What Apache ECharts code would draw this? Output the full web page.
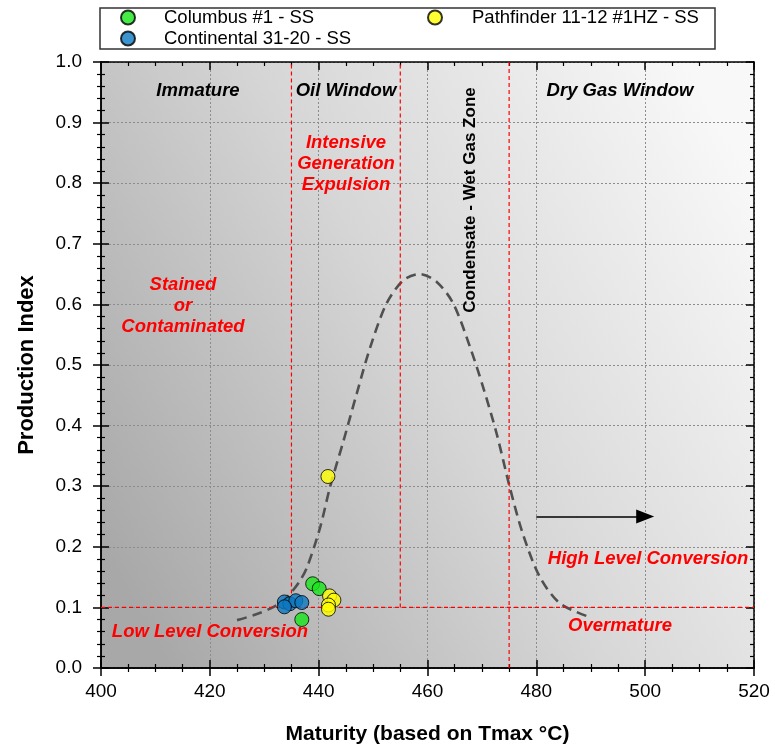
<!DOCTYPE html>
<html>
<head>
<meta charset="utf-8">
<script src="https://cdn.jsdelivr.net/npm/echarts@6/dist/echarts.min.js"></script>
<style>
  html, body { margin: 0; padding: 0; background: #fff; }
  #chart { width: 775px; height: 745px; }
</style>
</head>
<body>
<div id="chart"></div>
<script>
// samples: [Tmax, production index]
var columbus = [[438.9, 0.139], [440.1, 0.131], [436.9, 0.080]];
var continental = [[433.7, 0.109], [434.7, 0.106], [435.8, 0.111], [436.9, 0.108], [433.7, 0.101]];
var pathfinder = [[441.7, 0.316], [442.0, 0.119], [442.8, 0.112], [441.8, 0.104], [441.8, 0.097]];

// dashed maturity curve
var curveX = [425.0, 428.0, 431.1, 433.2, 434.8, 436.5, 437.9, 440.3, 442.1, 444.6, 447.0, 449.5, 452.5,
              455.6, 458.6, 461.7, 464.7, 467.8, 470.2, 472.7, 475.1, 477.5, 480.6, 484.3, 489.5];
var curveY = [0.079, 0.087, 0.098, 0.109, 0.123, 0.143, 0.167, 0.233, 0.299, 0.376, 0.453, 0.530, 0.602,
              0.640, 0.650, 0.637, 0.602, 0.530, 0.464, 0.387, 0.299, 0.222, 0.151, 0.107, 0.085];

// red dashed zone boundaries
var zoneLines = [
  [[435, 0.1], [435, 1.0]],
  [[455, 0.1], [455, 1.0]],
  [[475, 0.0], [475, 1.0]],
  [[400, 0.1], [520, 0.1]]
];
var arrowLine = [[480, 0.25], [500, 0.25]];

(function () {
  var chart = echarts.init(document.getElementById('chart'), null, { renderer: 'canvas' });
  var font = '"Liberation Sans", Arial, sans-serif';
  var red = '#ff0000';

  var curveData = curveX.map(function (x, i) { return [x, curveY[i]]; });

  function axisX(pos, inside, labels) {
    return {
      type: 'value', min: 400, max: 520, interval: 20, position: pos,
      axisLine: { show: true, onZero: false, lineStyle: { color: '#000', width: 1.5 } },
      axisTick: { show: true, inside: inside, length: 8, lineStyle: { color: '#000', width: 1.5 } },
      minorTick: { show: true, splitNumber: 4, length: 4, lineStyle: { color: '#000', width: 1.2 } },
      axisLabel: { show: labels, color: '#000', fontSize: 19, fontFamily: font, margin: 14 },
      splitLine: { show: false },
      name: labels ? 'Maturity (based on Tmax \u00b0C)' : '',
      nameLocation: 'middle', nameGap: 56,
      nameTextStyle: { color: '#000', fontSize: 21, fontWeight: 'bold', fontFamily: font }
    };
  }
  function axisY(pos, inside, labels) {
    return {
      type: 'value', min: 0, max: 1, interval: 0.1, position: pos,
      axisLine: { show: true, onZero: false, lineStyle: { color: '#000', width: 1.5 } },
      axisTick: { show: true, inside: inside, length: 8, lineStyle: { color: '#000', width: 1.5 } },
      minorTick: { show: true, splitNumber: 5, length: 4, lineStyle: { color: '#000', width: 1.2 } },
      axisLabel: {
        show: labels, color: '#000', fontSize: 19, fontFamily: font, margin: 19,
        formatter: function (v) { return v.toFixed(1); }
      },
      splitLine: { show: false },
      name: labels ? 'Production Index' : '',
      nameLocation: 'middle', nameGap: 63,
      nameTextStyle: { color: '#000', fontSize: 22, fontWeight: 'bold', fontFamily: font }
    };
  }

  var xMain = axisX('bottom', false, true);
  var xIn = axisX('bottom', true, false);
  xIn.splitLine = { show: true, lineStyle: { color: '#8c8c8c', type: [2, 2], width: 1 } };
  var xTop = axisX('top', true, false);
  var yMain = axisY('left', false, true);
  var yIn = axisY('left', true, false);
  yIn.splitLine = { show: true, lineStyle: { color: '#8c8c8c', type: [2, 2], width: 1 } };
  var yRight = axisY('right', true, false);

  function txt(x, y, s, color, size) {
    return {
      type: 'text', z: 50,
      style: {
        x: x, y: y, text: s, fill: color, fontSize: size, fontWeight: 'bold',
        fontStyle: 'italic', fontFamily: font, align: 'center', verticalAlign: 'middle', lineHeight: 21
      }
    };
  }

  var pointStyle = function (c) {
    return { color: c, borderColor: '#000', borderWidth: 1 };
  };

  var refSeries = zoneLines.map(function (l, i) {
    return {
      name: 'zone' + i, type: 'line', data: l, symbol: 'none', z: 4, silent: true,
      color: red,
      lineStyle: { color: red, width: 1.2, type: [4, 3] }
    };
  });

  var option = {
    backgroundColor: '#ffffff',
    animation: false,
    grid: {
      left: 101, right: 21, top: 62, bottom: 77, show: true, borderWidth: 0,
      outerBoundsMode: 'none',
      backgroundColor: {
        type: 'linear', x: 0, y: 0.8, x2: 1, y2: 0.2,
        colorStops: [
          { offset: 0, color: '#a8a8a8' },
          { offset: 0.5, color: '#d6d6d6' },
          { offset: 1, color: '#f8f8f8' }
        ]
      }
    },
    xAxis: [xMain, xIn, xTop],
    yAxis: [yMain, yIn, yRight],
    legend: [
      {
        left: 120, top: 8, padding: 0, orient: 'vertical', itemGap: 2, itemWidth: 14, itemHeight: 14,
        icon: 'circle', data: ['Columbus #1 - SS', 'Continental 31-20 - SS'],
        textStyle: { color: '#000', fontSize: 18.5, fontFamily: font, padding: [0, 0, 0, 24], lineHeight: 16 }
      },
      {
        left: 427, top: 8, padding: 0, orient: 'vertical', itemWidth: 14, itemHeight: 14,
        icon: 'circle', data: ['Pathfinder 11-12 #1HZ - SS'],
        textStyle: { color: '#000', fontSize: 18.5, fontFamily: font, padding: [0, 0, 0, 25], lineHeight: 16 }
      }
    ],
    graphic: [
      {
        type: 'rect', z: -1, shape: { x: 100, y: 8, width: 615, height: 41 },
        style: { fill: '#fff', stroke: '#333', lineWidth: 1.5 }
      },
      txt(198, 91, 'Immature', '#000', 18.5),
      txt(346, 91, 'Oil Window', '#000', 18.5),
      txt(620, 91, 'Dry Gas Window', '#000', 18.5),
      txt(346, 164, 'Intensive\nGeneration\nExpulsion', red, 18.5),
      txt(183, 306, 'Stained\nor\nContaminated', red, 18.5),
      txt(648, 559, 'High Level Conversion', red, 18.5),
      txt(210, 632, 'Low Level Conversion', red, 18.5),
      txt(620, 626, 'Overmature', red, 18.5),
      {
        type: 'text', z: 50, x: 470, y: 200, rotation: Math.PI / 2,
        style: {
          text: 'Condensate - Wet Gas Zone', fill: '#000', fontSize: 17, fontWeight: 'bold',
          fontFamily: font, align: 'center', verticalAlign: 'middle'
        }
      }
    ],
    series: refSeries.concat([
      {
        name: 'curve', type: 'line', data: curveData, smooth: 0.3, symbol: 'none', z: 3,
        lineStyle: { color: '#505050', width: 2.6, type: [10, 6] }
      },
      {
        name: 'arrow', type: 'line', data: [], z: 3,
        markLine: {
          silent: true, animation: false, label: { show: false },
          symbol: ['none', 'triangle'], symbolSize: [14, 18],
          lineStyle: { color: '#000', type: 'solid', width: 1.5 },
          data: [[{ coord: arrowLine[0] }, { coord: arrowLine[1] }]]
        }
      },
      {
        name: 'Columbus #1 - SS', type: 'scatter', data: columbus, symbolSize: 14, z: 5,
        itemStyle: pointStyle('#19e619')
      },
      {
        name: 'Continental 31-20 - SS', type: 'scatter', data: continental, symbolSize: 14, z: 5,
        itemStyle: pointStyle('#0b78c0')
      },
      {
        name: 'Pathfinder 11-12 #1HZ - SS', type: 'scatter', data: pathfinder, symbolSize: 14, z: 5,
        itemStyle: pointStyle('#ffff00')
      }
    ])
  };
  chart.setOption(option);
  window.addEventListener('resize', function () { chart.resize(); });
})();
</script>
</body>
</html>
